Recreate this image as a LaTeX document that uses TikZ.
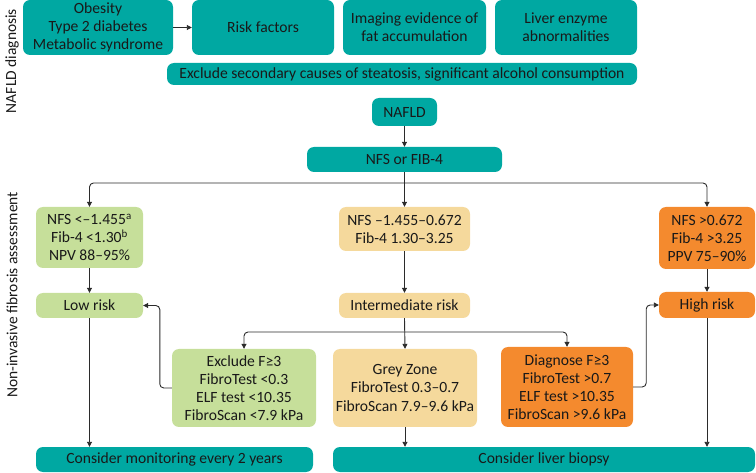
\documentclass[tikz,border=0pt]{standalone}
\usepackage{fontspec}
\setmainfont{Carlito}
\usetikzlibrary{arrows.meta}
\definecolor{tealc}{HTML}{00A8A2}
\definecolor{greenc}{HTML}{C6DF9A}
\definecolor{tanc}{HTML}{F5D99C}
\definecolor{orangec}{HTML}{F48A2E}
\definecolor{linec}{HTML}{2B2B2B}
\tikzset{
  box/.style={rounded corners=7pt, inner sep=0pt, align=center, font=\fontsize{15.6}{18}\selectfont, text=black!90},
  tealbox/.style={box, fill=tealc},
  greenbox/.style={box, fill=greenc},
  tanbox/.style={box, fill=tanc},
  orangebox/.style={box, fill=orangec},
  arr/.style={draw=linec, line width=0.9pt, -{Triangle[length=5pt,width=5pt]}, rounded corners=4pt},
  side/.style={rotate=90, font=\fontsize{15.5}{16}\selectfont, text=black!90}
}
\begin{document}
\begin{tikzpicture}[x=1pt,y=-1pt]
\useasboundingbox (0,0) rectangle (756,473);
% left side labels
\node[side] (lab1) at (12,61) {NAFLD diagnosis};
\node[side] (lab2) at (12,295) {Non-invasive fibrosis assessment};
% top row
\node[tealbox, minimum width=150pt, minimum height=55pt] (obes) at (98,27.5) {Obesity\\Type 2 diabetes\\Metabolic syndrome};
\node[tealbox, minimum width=142pt, minimum height=55pt] (risk) at (263,27.5) {Risk factors};
\node[tealbox, minimum width=143pt, minimum height=55pt] (imag) at (414.5,27.5) {Imaging evidence of\\fat accumulation};
\node[tealbox, minimum width=142pt, minimum height=55pt] (enz) at (566,27.5) {Liver enzyme\\abnormalities};
\node[tealbox, minimum width=470pt, minimum height=22pt] (excsec) at (402,74) {Exclude secondary causes of steatosis, significant alcohol consumption};
\node[tealbox, minimum width=65pt, minimum height=28pt] (nafld) at (404.5,112) {NAFLD};
\node[tealbox, minimum width=195pt, minimum height=25pt] (nfs) at (404.5,159.5) {NFS or FIB-4};
% second level
\node[greenbox, minimum width=107pt, minimum height=61pt] (left1) at (89.5,237.5) {NFS <–1.455\textsuperscript{a}\\Fib-4 <1.30\textsuperscript{b}\\NPV 88–95\%};
\node[tanbox, minimum width=131pt, minimum height=44pt] (mid1) at (404.5,229) {NFS –1.455–0.672\\Fib-4 1.30–3.25};
\node[orangebox, minimum width=96pt, minimum height=62pt] (right1) at (707,238) {NFS >0.672\\Fib-4 >3.25\\PPV 75–90\%};
\node[greenbox, minimum width=107pt, minimum height=25pt] (low) at (89.5,305.5) {Low risk};
\node[tanbox, minimum width=131pt, minimum height=25pt] (inter) at (404.5,305.5) {Intermediate risk};
\node[orangebox, minimum width=96pt, minimum height=26pt] (high) at (707,305) {High risk};
% third level
\node[greenbox, minimum width=144pt, minimum height=78pt] (excl) at (244,388) {Exclude F≥3\\FibroTest <0.3\\ELF test <10.35\\FibroScan <7.9 kPa};
\node[tanbox, minimum width=144pt, minimum height=78pt] (grey) at (405,388) {Grey Zone\\FibroTest 0.3–0.7\\FibroScan 7.9–9.6 kPa};
\node[orangebox, minimum width=132pt, minimum height=80pt] (diag) at (567,387) {Diagnose F≥3\\FibroTest >0.7\\ELF test >10.35\\FibroScan >9.6 kPa};
% bottom
\node[tealbox, minimum width=277pt, minimum height=25pt] (monit) at (174.5,459.5) {Consider monitoring every 2 years};
\node[tealbox, minimum width=422pt, minimum height=25pt] (biop) at (544,459.5) {Consider liver biopsy};
% helper coordinates
\coordinate (split1) at (404.5,183);
\coordinate (split2) at (405,332);
% connectors
\draw[arr] (obes) -- (risk);
\draw[arr] (nafld) -- (nfs);
\draw[arr] (nfs.south) -- (mid1.north);
\draw[arr] (split1) -| (left1.north);
\draw[arr] (split1) -| (right1.north);
\draw[arr] (left1) -- (low);
\draw[arr] (mid1) -- (inter);
\draw[arr] (right1) -- (high);
\draw[arr] (inter.south) -- (grey.north);
\draw[arr] (split2) -| (excl.north);
\draw[arr] (split2) -| (diag.north);
\draw[arr] (excl.west) -- ++(-12,0) |- (low.east);
\draw[arr] (diag.east) -- ++(13,0) |- (high.west);
\draw[arr] (low.south) -- (low.south |- monit.north);
\draw[arr] (grey.south) -- (grey.south |- biop.north);
\draw[arr] (high.south) -- (high.south |- biop.north);
\end{tikzpicture}
\end{document}
